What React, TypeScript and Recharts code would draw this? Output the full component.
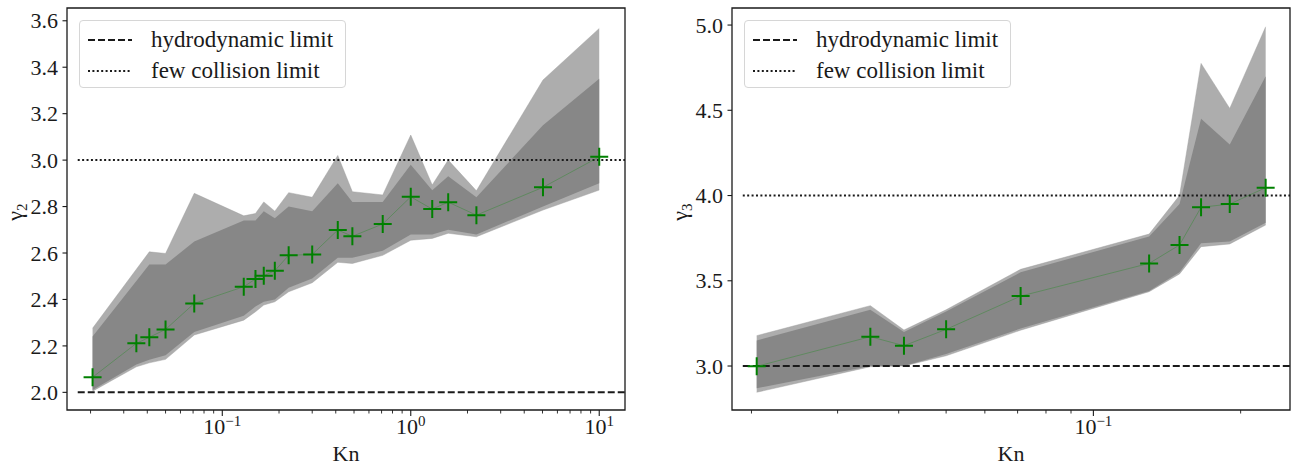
import React from 'react';
import { ComposedChart, Line, Area, XAxis, YAxis, ReferenceArea, Legend } from 'recharts';

const FONT = '"Liberation Serif", "Times New Roman", serif';
const INK = '#1a1a1a';

// Knudsen numbers of the simulated cases (shared by both panels)
const knValues = [0.0205, 0.035, 0.041, 0.05, 0.071, 0.13, 0.15, 0.166, 0.19, 0.225, 0.3, 0.41, 0.49, 0.71, 1.0, 1.3, 1.58, 2.23, 5.03, 10.0];

// gamma_2: ensemble mean, full envelope and dense core of the sampled curves
const gamma2Mean = [2.065, 2.211, 2.237, 2.271, 2.383, 2.455, 2.488, 2.502, 2.524, 2.59, 2.594, 2.699, 2.672, 2.725, 2.842, 2.789, 2.819, 2.763, 2.883, 3.014];
const gamma2Low = [2.005, 2.11, 2.127, 2.142, 2.247, 2.311, 2.347, 2.376, 2.39, 2.433, 2.472, 2.56, 2.555, 2.59, 2.655, 2.663, 2.685, 2.67, 2.785, 2.871];
const gamma2High = [2.276, 2.53, 2.605, 2.598, 2.857, 2.76, 2.77, 2.82, 2.78, 2.86, 2.84, 3.02, 2.864, 2.85, 3.108, 2.893, 3.0, 2.868, 3.345, 3.567];
const gamma2CoreLow = [2.01, 2.12, 2.14, 2.16, 2.26, 2.33, 2.37, 2.39, 2.4, 2.45, 2.49, 2.58, 2.58, 2.61, 2.68, 2.68, 2.7, 2.68, 2.8, 2.9];
const gamma2CoreHigh = [2.24, 2.48, 2.55, 2.55, 2.65, 2.74, 2.74, 2.78, 2.75, 2.8, 2.78, 2.9, 2.82, 2.82, 2.98, 2.87, 2.93, 2.84, 3.15, 3.35];

// gamma_3 only covers the first ten Knudsen numbers
const gamma3Mean = [2.998, 3.172, 3.119, 3.215, 3.41, 3.602, 3.71, 3.931, 3.95, 4.046];
const gamma3Low = [2.846, 2.996, 3.0, 3.06, 3.21, 3.436, 3.54, 3.7, 3.716, 3.827];
const gamma3High = [3.178, 3.354, 3.211, 3.33, 3.567, 3.774, 4.0, 4.775, 4.511, 4.99];
const gamma3CoreLow = [2.87, 3.0, 3.0, 3.07, 3.22, 3.44, 3.55, 3.72, 3.73, 3.84];
const gamma3CoreHigh = [3.15, 3.33, 3.2, 3.32, 3.55, 3.76, 3.95, 4.45, 4.3, 4.7];

// axis ticks
const gamma2YTicks = [2.0, 2.2, 2.4, 2.6, 2.8, 3.0, 3.2, 3.4, 3.6];
const gamma3YTicks = [3.0, 3.5, 4.0, 4.5, 5.0];
const gamma2XTicks = [0.02, 0.03, 0.04, 0.05, 0.06, 0.07, 0.08, 0.09, 0.1, 0.2, 0.3, 0.4, 0.5, 0.6, 0.7, 0.8, 0.9, 1, 2, 3, 4, 5, 6, 7, 8, 9, 10];
const gamma3XTicks = [0.02, 0.03, 0.04, 0.05, 0.06, 0.07, 0.08, 0.09, 0.1, 0.2];

const legendItems = [
  { name: 'hydrodynamic limit', dash: '7 3' },
  { name: 'few collision limit', dash: '2 2.4' },
];

type Row = { kn: number; mean: number; band: [number, number]; core: [number, number] };

function buildRows(mean: number[], lo: number[], hi: number[], cLo: number[], cHi: number[]): Row[] {
  return mean.map((m, i) => ({
    kn: knValues[i],
    mean: m,
    band: [lo[i], hi[i]],
    core: [cLo[i], cHi[i]],
  }));
}

function PlusDot(props: any) {
  const { cx, cy } = props;
  if (cx == null || cy == null) return null;
  const r = 9;
  return <path d={`M${cx - r},${cy}H${cx + r}M${cx},${cy - r}V${cy + r}`} stroke="#008000" strokeWidth={2} fill="none" />;
}

function XTick(props: any) {
  const { x, y, payload } = props;
  const p = Math.log10(payload.value);
  const exp = Math.round(p);
  const major = Math.abs(p - exp) < 1e-6;
  return (
    <g>
      <line x1={x} x2={x} y1={y} y2={y + (major ? 6 : 3.5)} stroke={INK} strokeWidth={major ? 1.1 : 0.9} />
      {major && (
        <text x={x} y={y + 24} textAnchor="middle" fontFamily={FONT} fontSize={22} fill={INK}>
          <tspan>10</tspan>
          <tspan dy={-8} fontSize={15}>{exp < 0 ? `\u2212${-exp}` : `${exp}`}</tspan>
        </text>
      )}
    </g>
  );
}

function YTick(props: any) {
  const { x, y, payload } = props;
  return (
    <g>
      <line x1={x - 4.5} x2={x} y1={y} y2={y} stroke={INK} strokeWidth={1.1} />
      <text x={x - 9} y={y} dy="0.35em" textAnchor="end" fontFamily={FONT} fontSize={22} fill={INK}>
        {Number(payload.value).toFixed(1)}
      </text>
    </g>
  );
}

function LimitLegend() {
  return (
    <div
      style={{
        position: 'relative',
        boxSizing: 'border-box',
        width: 267,
        height: 68,
        border: '1px solid #d6d6d6',
        borderRadius: 4,
        background: 'rgba(255,255,255,0.85)',
        fontFamily: FONT,
        fontSize: 23,
        color: INK,
      }}
    >
      {legendItems.map((item, i) => (
        <div key={item.name} style={{ position: 'absolute', left: 0, top: 3 + i * 31, height: 31, display: 'flex', alignItems: 'center' }}>
          <svg width={44} height={10} style={{ marginLeft: 8, marginRight: 19 }}>
            <line x1={0} x2={44} y1={5} y2={5} stroke={INK} strokeWidth={2} strokeDasharray={item.dash} />
          </svg>
          <span style={{ whiteSpace: 'nowrap', lineHeight: '31px' }}>{item.name}</span>
        </div>
      ))}
    </div>
  );
}

type PanelProps = {
  left: number;
  width: number;
  plotLeft: number;
  rightMargin: number;
  rows: Row[];
  xDomain: [number, number];
  xTicks: number[];
  yDomain: [number, number];
  yTicks: number[];
  hydro: number;
  fewColl: number;
  limitStart: number;
  sub: string;
};

function Panel(p: PanelProps) {
  const hydroLine = [{ kn: p.limitStart, v: p.hydro }, { kn: p.xDomain[1], v: p.hydro }];
  const fewLine = [{ kn: p.limitStart, v: p.fewColl }, { kn: p.xDomain[1], v: p.fewColl }];
  const labelX = p.plotLeft - 45;
  const labelY = 212;
  return (
    <div style={{ position: 'absolute', left: p.left, top: 0 }}>
      <ComposedChart width={p.width} height={465} data={p.rows} margin={{ top: 8, right: p.rightMargin, bottom: 0, left: 0 }}>
        <XAxis
          dataKey="kn"
          type="number"
          scale="log"
          domain={p.xDomain}
          ticks={p.xTicks}
          interval={0}
          allowDataOverflow
          height={55}
          axisLine={false}
          tickLine={false}
          tickSize={0}
          tickMargin={0}
          tick={<XTick />}
          label={{ value: 'Kn', position: 'insideBottom', offset: 4, fill: INK, fontSize: 22, fontFamily: FONT }}
        />
        <YAxis
          type="number"
          domain={p.yDomain}
          ticks={p.yTicks}
          interval={0}
          allowDataOverflow
          width={p.plotLeft}
          axisLine={false}
          tickLine={false}
          tickSize={0}
          tickMargin={0}
          tick={<YTick />}
          label={{
            content: () => (
              <text
                x={labelX}
                y={labelY}
                transform={`rotate(-90 ${labelX} ${labelY})`}
                textAnchor="middle"
                fontFamily={FONT}
                fontSize={22}
                fill={INK}
              >
                <tspan>γ</tspan>
                <tspan dy={5} fontSize={15}>{p.sub}</tspan>
              </text>
            ),
          }}
        />
        <Line data={fewLine} dataKey="v" stroke={INK} strokeWidth={2} strokeDasharray="2 2.4" dot={false} activeDot={false} isAnimationActive={false} legendType="none" />
        <Area type="linear" dataKey="band" stroke="#999" strokeWidth={0.7} strokeOpacity={0.6} fill="#8a8a8a" fillOpacity={0.7} isAnimationActive={false} activeDot={false} legendType="none" />
        <Area type="linear" dataKey="core" stroke="none" fill="#808080" fillOpacity={0.85} isAnimationActive={false} activeDot={false} legendType="none" />
        <Line data={hydroLine} dataKey="v" stroke={INK} strokeWidth={2} strokeDasharray="7 3" dot={false} activeDot={false} isAnimationActive={false} legendType="none" />
        <Line type="linear" dataKey="mean" stroke="#1a8c1a" strokeOpacity={0.45} strokeWidth={0.8} dot={<PlusDot />} activeDot={false} isAnimationActive={false} legendType="none" />
        <ReferenceArea x1={p.xDomain[0]} x2={p.xDomain[1]} y1={p.yDomain[0]} y2={p.yDomain[1]} fill="none" stroke={INK} strokeWidth={1.3} ifOverflow="visible" />
        <Legend
          layout="horizontal"
          verticalAlign="middle"
          align="center"
          content={() => <LimitLegend />}
          wrapperStyle={{ left: p.plotLeft + 12, top: 20, width: 267, height: 68 }}
        />
      </ComposedChart>
    </div>
  );
}

export default function App() {
  const rows2 = buildRows(gamma2Mean, gamma2Low, gamma2High, gamma2CoreLow, gamma2CoreHigh);
  const rows3 = buildRows(gamma3Mean, gamma3Low, gamma3High, gamma3CoreLow, gamma3CoreHigh);
  return (
    <div style={{ position: 'absolute', left: 0, top: 0, width: 1292, height: 465, background: '#fff' }}>
      <Panel
        left={0}
        width={640}
        plotLeft={67}
        rightMargin={15}
        rows={rows2}
        xDomain={[0.015, 13.7]}
        xTicks={gamma2XTicks}
        yDomain={[1.924, 3.655]}
        yTicks={gamma2YTicks}
        hydro={2.0}
        fewColl={3.0}
        limitStart={0.0171}
        sub="2"
      />
      <Panel
        left={650}
        width={642}
        plotLeft={82}
        rightMargin={2}
        rows={rows3}
        xDomain={[0.01825, 0.2523]}
        xTicks={gamma3XTicks}
        yDomain={[2.742, 5.1]}
        yTicks={gamma3YTicks}
        hydro={3.0}
        fewColl={4.0}
        limitStart={0.0192}
        sub="3"
      />
    </div>
  );
}
